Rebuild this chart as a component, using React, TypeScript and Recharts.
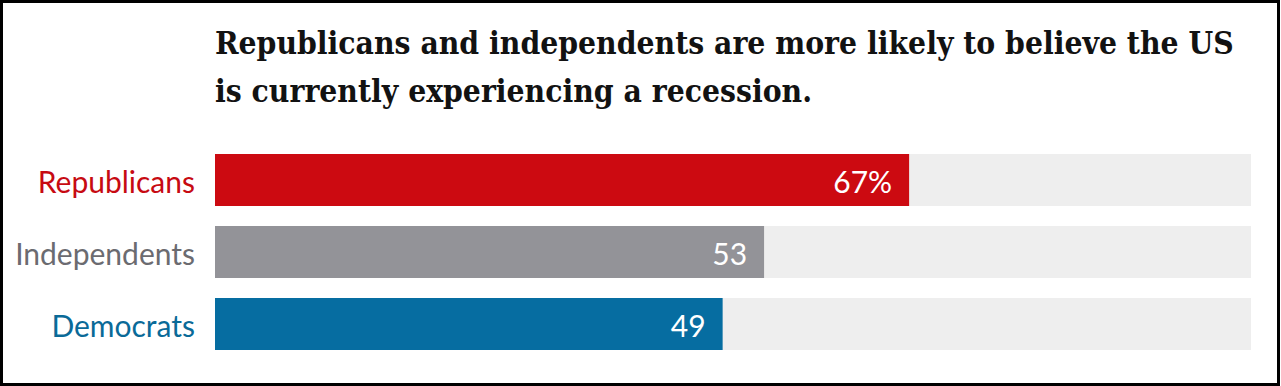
import React from "react";
import { BarChart, Bar, XAxis, YAxis, Cell, LabelList } from "recharts";

const categories = ["Republicans", "Independents", "Democrats"];
const values = [67, 53, 49];
const valueLabels = ["67%", "53", "49"];
const barColors = ["#cc0a11", "#939398", "#066da1"];
const textColors = ["#c70a12", "#6b6b70", "#0a6a98"];
const titleLines = [
  "Republicans and independents are more likely to believe the US",
  "is currently experiencing a recession.",
];

const data = categories.map((c, i) => ({ name: c, value: values[i], label: valueLabels[i] }));

const SANS = "Lato, 'Open Sans', sans-serif";

const CatTick = (props: any) => {
  const { y, payload, index } = props;
  return (
    <text x={195} y={y + 13} textAnchor="end" fontFamily={SANS} fontSize={30} fill={textColors[index]}>
      {payload.value}
    </text>
  );
};

const ValueLabel = (props: any) => {
  const { x, y, width, height, index } = props;
  return (
    <text x={x + width - 17} y={y + height / 2 + 13} textAnchor="end" fontFamily={SANS} fontSize={30} fill="#ffffff">
      {valueLabels[index]}
    </text>
  );
};

export default function App() {
  return (
    <div style={{ position: "fixed", left: 0, top: 0, width: 1280, height: 386, boxSizing: "border-box", border: "3px solid #000", background: "#fff" }}>
      <div style={{ position: "absolute", left: -3, top: -3 }}>
        <svg width={1280} height={130} style={{ position: "absolute", left: 0, top: 0 }}>
          {titleLines.map((t, i) => (
            <text key={i} x={215} y={54 + i * 48} fontFamily="'DejaVu Serif Condensed', 'DejaVu Serif', serif" fontWeight="bold" fontSize={31.5} fill="#121212">
              {t}
            </text>
          ))}
        </svg>
        <div style={{ position: "absolute", left: 0, top: 0 }}>
          <BarChart
            width={1280}
            height={386}
            data={data}
            layout="vertical"
            margin={{ top: 144, right: 29, bottom: 26, left: 0 }}
            barCategoryGap={20}
          >
            <XAxis type="number" domain={[0, 100]} hide />
            <YAxis type="category" dataKey="name" width={215} axisLine={false} tickLine={false} tick={<CatTick />} />
            <Bar dataKey="value" barSize={52} background={{ fill: "#eeeeee" }} isAnimationActive={false}>
              {data.map((d, i) => (
                <Cell key={i} fill={barColors[i]} />
              ))}
              <LabelList dataKey="label" content={<ValueLabel />} />
            </Bar>
          </BarChart>
        </div>
      </div>
    </div>
  );
}
